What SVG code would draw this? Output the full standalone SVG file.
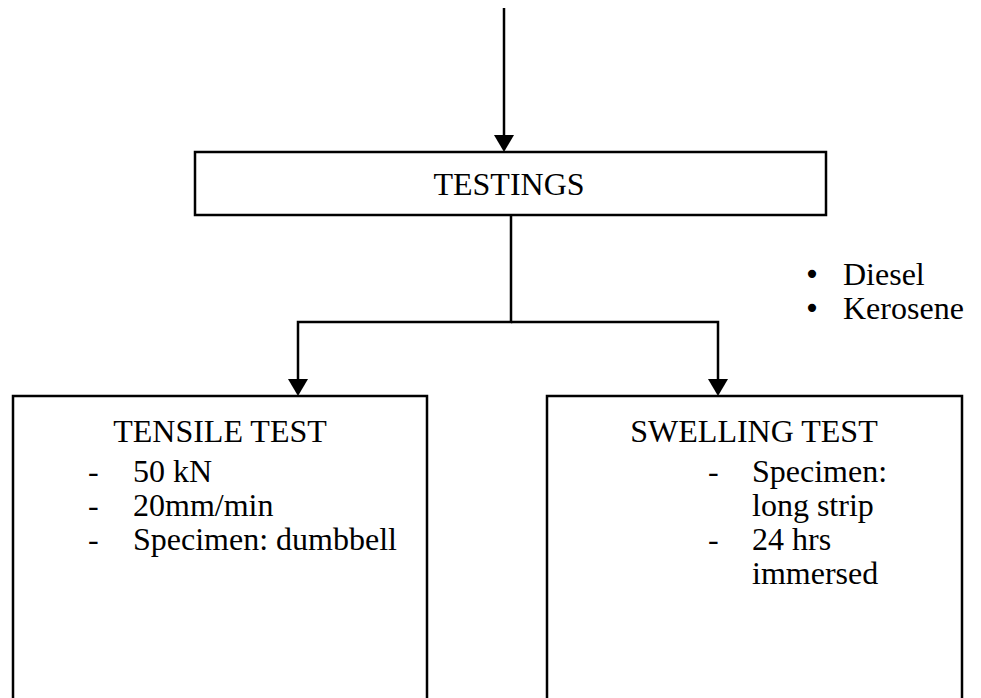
<svg xmlns="http://www.w3.org/2000/svg" width="981" height="698" viewBox="0 0 981 698">
<defs>
<style>
.box{fill:#fff;stroke:#000;stroke-width:2.5}
.ln{fill:none;stroke:#000;stroke-width:2.5}
text{font-family:"Liberation Serif","Times New Roman",serif;font-size:32px;fill:#000}
.bul{font-family:"DejaVu Sans",sans-serif;font-size:28px}
</style>
</defs>
<rect width="981" height="698" fill="#fff"/>
<g id="connectors">
<line class="ln" x1="504" y1="8" x2="504" y2="138"/>
<path d="M494,135 L514,135 L504,152 z" fill="#000"/>
<polyline class="ln" points="511,216 511,322 298,322 298,382"/>
<polyline class="ln" points="511,322 718,322 718,382"/>
<path d="M288,379 L308,379 L298,396 z" fill="#000"/>
<path d="M708,379 L728,379 L718,396 z" fill="#000"/>
</g>
<g id="testings">
<rect class="box" x="195" y="152" width="631" height="63"/>
<text x="509" y="195" text-anchor="middle">TESTINGS</text>
</g>
<g id="fuels">
<text class="bul" x="812" y="284" text-anchor="middle">•</text>
<text x="843" y="285">Diesel</text>
<text class="bul" x="812" y="318" text-anchor="middle">•</text>
<text x="843" y="319">Kerosene</text>
</g>
<g id="tensile">
<path class="ln" d="M13,700 L13,396 L427,396 L427,700"/>
<text x="220" y="442" text-anchor="middle">TENSILE TEST</text>
<text x="88" y="482">-</text><text x="133" y="482">50 kN</text>
<text x="88" y="516">-</text><text x="133" y="516">20mm/min</text>
<text x="88" y="550">-</text><text x="133" y="550">Specimen: dumbbell</text>
</g>
<g id="swelling">
<path class="ln" d="M547,700 L547,396 L962,396 L962,700"/>
<text x="754" y="442" text-anchor="middle">SWELLING TEST</text>
<text x="708" y="482">-</text><text x="752" y="482">Specimen:</text>
<text x="752" y="516">long strip</text>
<text x="708" y="550">-</text><text x="752" y="550">24 hrs</text>
<text x="752" y="584">immersed</text>
</g>
</svg>
